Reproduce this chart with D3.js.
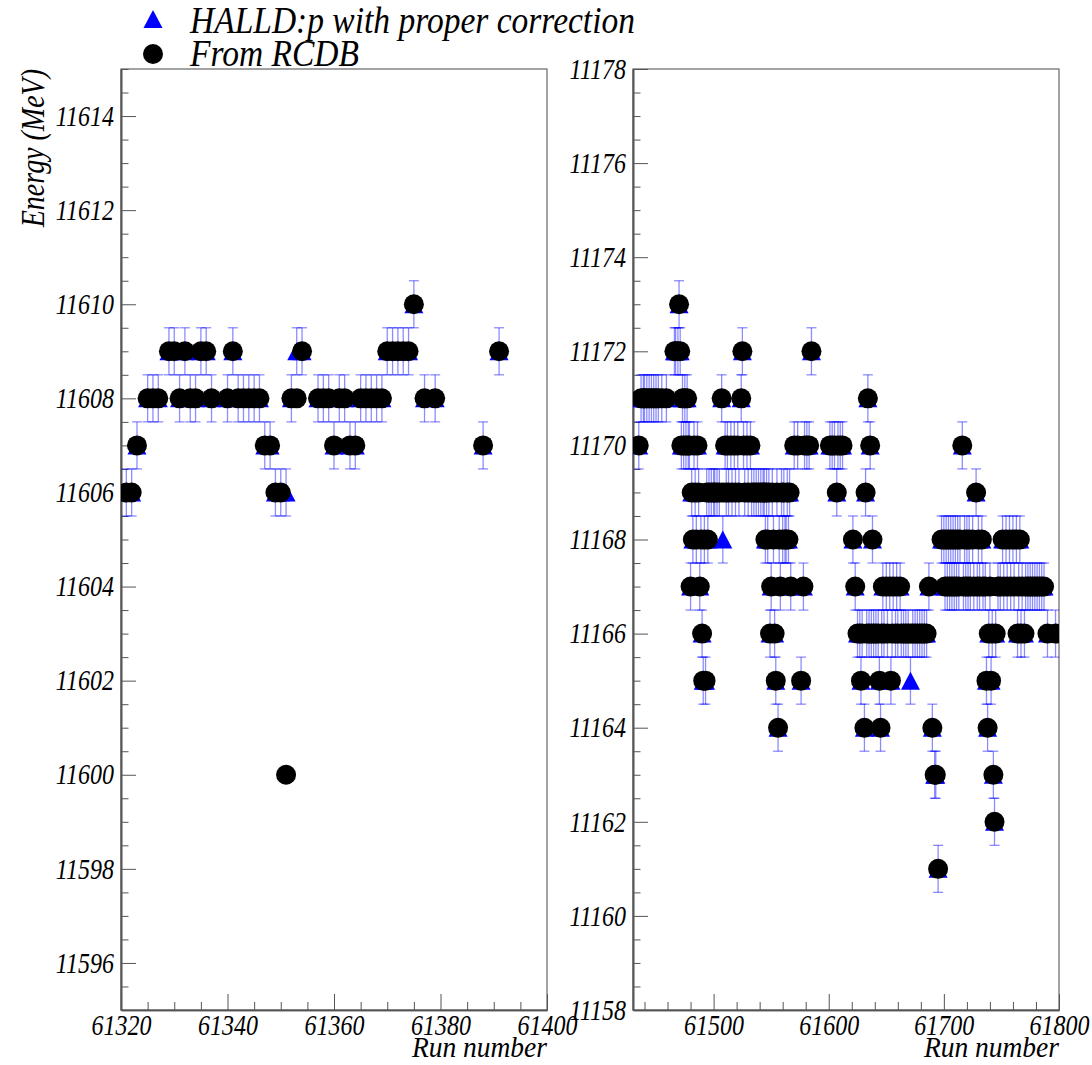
<!DOCTYPE html>
<html>
<head>
<meta charset="utf-8">
<script src="https://cdn.jsdelivr.net/npm/d3@7"></script>
<style>
  html, body { margin: 0; padding: 0; background: #fff; }
  svg text { font-family: "Liberation Serif", "Times New Roman", serif; font-style: italic; fill: #000; }
</style>
</head>
<body>
<svg id="chart" width="1092" height="1065"></svg>
<script>
// ---- Beam energy per run: left block (runs 61320-61400) ----
const runsLeft = [
  61321, 61322, 61323, 61325, 61326, 61327, 61329, 61330, 61331, 61332,
  61333, 61334, 61335, 61336, 61337, 61340, 61341, 61342, 61343, 61344,
  61345, 61346, 61347, 61348, 61349, 61350, 61351, 61352, 61353, 61354,
  61357, 61358, 61359, 61360, 61361, 61362, 61363, 61364, 61365, 61366,
  61367, 61368, 61369, 61370, 61371, 61372, 61373, 61374, 61375, 61377,
  61379, 61388, 61391
];
const halldLeft = [
  11606, 11606, 11607, 11608, 11608, 11608, 11609, 11609, 11608, 11609,
  11608, 11608, 11609, 11609, 11608, 11608, 11609, 11608, 11608, 11608,
  11608, 11608, 11607, 11607, 11606, 11606, 11606, 11608, 11609, 11609,
  11608, 11608, 11608, 11607, 11608, 11608, 11607, 11607, 11608, 11608,
  11608, 11608, 11608, 11609, 11609, 11609, 11609, 11609, 11610, 11608,
  11608, 11607, 11609
];
const rcdbLeft = [
  11606, 11606, 11607, 11608, 11608, 11608, 11609, 11609, 11608, 11609,
  11608, 11608, 11609, 11609, 11608, 11608, 11609, 11608, 11608, 11608,
  11608, 11608, 11607, 11607, 11606, 11606, 11600, 11608, 11608, 11609,
  11608, 11608, 11608, 11607, 11608, 11608, 11607, 11607, 11608, 11608,
  11608, 11608, 11608, 11609, 11609, 11609, 11609, 11609, 11610, 11608,
  11608, 11607, 11609
];

// ---- Beam energy per run: right block (runs 61430-61800) ----
const runsRight = [
  61435, 61437, 61439, 61440, 61442, 61444, 61446, 61448, 61450, 61452,
  61455, 61459, 61466, 61467, 61469, 61470, 61471, 61472, 61473, 61474,
  61475, 61476, 61477, 61478, 61479, 61480, 61481, 61482, 61483, 61484,
  61485, 61486, 61487, 61488, 61489, 61490, 61491, 61492, 61493, 61494,
  61495, 61496, 61498, 61500, 61501, 61503, 61505, 61507, 61508, 61510,
  61511, 61512, 61513, 61515, 61516, 61518, 61519, 61521, 61522, 61524,
  61525, 61526, 61527, 61529, 61530, 61532, 61533, 61535, 61537, 61539,
  61541, 61543, 61544, 61545, 61546, 61547, 61548, 61549, 61550, 61551,
  61552, 61553, 61554, 61555, 61556, 61557, 61558, 61559, 61560, 61561,
  61562, 61563, 61564, 61565, 61566, 61567, 61570, 61573, 61576, 61578,
  61579, 61581, 61583, 61585, 61601, 61603, 61605, 61607, 61608, 61610,
  61612, 61621, 61623, 61625, 61627, 61628, 61629, 61631, 61632, 61633,
  61634, 61635, 61636, 61637, 61638, 61639, 61641, 61643, 61644, 61645,
  61646, 61647, 61648, 61650, 61651, 61653, 61654, 61655, 61656, 61658,
  61659, 61660, 61662, 61663, 61665, 61667, 61669, 61671, 61673, 61675,
  61677, 61679, 61681, 61683, 61685, 61687, 61690, 61692, 61693, 61695,
  61698, 61700, 61701, 61702, 61703, 61704, 61705, 61706, 61707, 61708,
  61709, 61710, 61711, 61712, 61713, 61714, 61716, 61717, 61718, 61719,
  61720, 61721, 61722, 61723, 61725, 61726, 61728, 61729, 61730, 61731,
  61733, 61734, 61736, 61737, 61738, 61739, 61740, 61741, 61742, 61743,
  61744, 61745, 61747, 61749, 61751, 61752, 61754, 61755, 61757, 61758,
  61760, 61761, 61763, 61764, 61765, 61766, 61767, 61768, 61770, 61771,
  61773, 61775, 61777, 61779, 61781, 61783, 61785, 61787, 61790, 61797
];
const halldRight = [
  11170, 11171, 11171, 11171, 11171, 11171, 11171, 11171, 11171, 11171,
  11171, 11171, 11172, 11172, 11172, 11173, 11172, 11170, 11171, 11170,
  11171, 11170, 11171, 11170, 11170, 11167, 11169, 11168, 11170, 11169,
  11168, 11170, 11169, 11167, 11168, 11166, 11165, 11168, 11165, 11169,
  11168, 11169, 11169, 11169, 11169, 11169, 11169, 11171, 11168, 11170,
  11169, 11170, 11169, 11170, 11169, 11170, 11169, 11170, 11169, 11171,
  11172, 11170, 11169, 11170, 11169, 11170, 11169, 11169, 11169, 11169,
  11169, 11169, 11169, 11168, 11169, 11168, 11169, 11166, 11167, 11169,
  11168, 11166, 11165, 11169, 11164, 11168, 11167, 11169, 11168, 11169,
  11168, 11168, 11169, 11168, 11169, 11167, 11170, 11170, 11165, 11167,
  11170, 11170, 11170, 11172, 11170, 11170, 11170, 11169, 11170, 11170,
  11170, 11168, 11167, 11166, 11166, 11165, 11166, 11164, 11169, 11166,
  11171, 11166, 11170, 11166, 11168, 11166, 11166, 11166, 11165, 11164,
  11166, 11167, 11166, 11167, 11166, 11167, 11165, 11166, 11167, 11166,
  11167, 11166, 11167, 11166, 11166, 11166, 11166, 11165, 11166, 11166,
  11166, 11166, 11166, 11166, 11166, 11167, 11164, 11163, 11163, 11161,
  11168, 11168, 11167, 11168, 11167, 11168, 11167, 11168, 11167, 11168,
  11167, 11168, 11167, 11168, 11167, 11168, 11170, 11167, 11168, 11167,
  11168, 11167, 11168, 11167, 11168, 11167, 11169, 11167, 11168, 11167,
  11168, 11167, 11167, 11165, 11164, 11166, 11167, 11165, 11166, 11163,
  11162, 11166, 11167, 11167, 11168, 11167, 11168, 11167, 11168, 11167,
  11168, 11167, 11168, 11166, 11167, 11168, 11166, 11167, 11166, 11167,
  11167, 11167, 11167, 11167, 11167, 11167, 11167, 11167, 11166, 11166
];
const rcdbRight = [
  11170, 11171, 11171, 11171, 11171, 11171, 11171, 11171, 11171, 11171,
  11171, 11171, 11172, 11172, 11172, 11173, 11172, 11170, 11171, 11170,
  11171, 11170, 11171, 11170, 11170, 11167, 11169, 11168, 11170, 11169,
  11168, 11170, 11169, 11167, 11168, 11166, 11165, 11168, 11165, 11169,
  11168, 11169, 11169, 11169, 11169, 11169, 11169, 11171, 11169, 11170,
  11169, 11170, 11169, 11170, 11169, 11170, 11169, 11170, 11169, 11171,
  11172, 11170, 11169, 11170, 11169, 11170, 11169, 11169, 11169, 11169,
  11169, 11169, 11169, 11168, 11169, 11168, 11169, 11166, 11167, 11169,
  11168, 11166, 11165, 11169, 11164, 11168, 11167, 11169, 11168, 11169,
  11168, 11168, 11169, 11168, 11169, 11167, 11170, 11170, 11165, 11167,
  11170, 11170, 11170, 11172, 11170, 11170, 11170, 11169, 11170, 11170,
  11170, 11168, 11167, 11166, 11166, 11165, 11166, 11164, 11169, 11166,
  11171, 11166, 11170, 11166, 11168, 11166, 11166, 11166, 11165, 11164,
  11166, 11167, 11166, 11167, 11166, 11167, 11165, 11166, 11167, 11166,
  11167, 11166, 11167, 11166, 11166, 11166, 11166, 11166, 11166, 11166,
  11166, 11166, 11166, 11166, 11166, 11167, 11164, 11163, 11163, 11161,
  11168, 11168, 11167, 11168, 11167, 11168, 11167, 11168, 11167, 11168,
  11167, 11168, 11167, 11168, 11167, 11168, 11170, 11167, 11168, 11167,
  11168, 11167, 11168, 11167, 11168, 11167, 11169, 11167, 11168, 11167,
  11168, 11167, 11167, 11165, 11164, 11166, 11167, 11165, 11166, 11163,
  11162, 11166, 11167, 11167, 11168, 11167, 11168, 11167, 11168, 11167,
  11168, 11167, 11168, 11166, 11167, 11168, 11166, 11167, 11166, 11167,
  11167, 11167, 11167, 11167, 11167, 11167, 11167, 11167, 11166, 11166
];

// ---- Axis ranges, tick values and labels ----
const xDomainLeft = [61320, 61400];
const yDomainLeft = [11595, 11615];
const xDomainRight = [61430, 61800];
const yDomainRight = [11158, 11178];
const energyError = 0.5;   // +/- half an MeV on each corrected point

const legendLabels = ["HALLD:p with proper correction", "From RCDB"];
const xTitle = "Run number";
const yTitle = "Energy (MeV)";

// ---- Drawing ----
const svg = d3.select("#chart");
svg.append("rect").attr("width", 1092).attr("height", 1065).attr("fill", "#fff");

const frameTop = 69, frameBottom = 1010;
const stretch = 1.2;   // the serif face is drawn a little taller than wide
const panels = [
  { id: "left",  x0: 121, x1: 547, xDom: xDomainLeft,  yDom: yDomainLeft,
    runs: runsLeft, halld: halldLeft, rcdb: rcdbLeft,
    xMajor: 20, xMinor: 5, yTitle: true },
  { id: "right", x0: 633, x1: 1059, xDom: xDomainRight, yDom: yDomainRight,
    runs: runsRight, halld: halldRight, rcdb: rcdbRight,
    xMajor: 100, xMinor: 20, yTitle: false }
];

const blue = "#0000ff";
const triPath = "M0,-9L9.5,9L-9.5,9Z";
const labelFont = 24;

function rangeStep(a, b, s) {
  const out = [];
  for (let v = Math.ceil(a / s) * s; v <= b + 1e-9; v += s) out.push(+v.toFixed(6));
  return out;
}

// text placed at (x, y), stretched along its own vertical direction
function tallText(parent, x, y, str, size, anchor, rotate, k) {
  return parent.append("g")
    .attr("transform", `translate(${x},${y})` + (rotate ? ` rotate(${rotate})` : "") + ` scale(1,${k || stretch})`)
    .append("text")
    .attr("text-anchor", anchor || "start")
    .style("font-size", size + "px")
    .text(str);
}

panels.forEach(p => {
  const x = d3.scaleLinear().domain(p.xDom).range([p.x0, p.x1]);
  const y = d3.scaleLinear().domain(p.yDom).range([frameBottom, frameTop]);
  const g = svg.append("g").attr("class", "panel-" + p.id);

  // clip markers to the frame
  const clipId = "clip-" + p.id;
  svg.append("clipPath").attr("id", clipId)
    .append("rect").attr("x", p.x0).attr("y", frameTop)
    .attr("width", p.x1 - p.x0).attr("height", frameBottom - frameTop);

  // frame
  g.append("rect")
    .attr("x", p.x0).attr("y", frameTop)
    .attr("width", p.x1 - p.x0).attr("height", frameBottom - frameTop)
    .attr("fill", "none").attr("stroke", "#666").attr("stroke-width", 1.2);

  // y axis: major ticks with labels every 2 MeV, minor every 0.5 MeV
  const yMajor = rangeStep(p.yDom[0], p.yDom[1], 2);
  const yMinor = rangeStep(p.yDom[0], p.yDom[1], 0.5).filter(v => !yMajor.includes(v));
  const yAxisMinor = g.append("g").attr("transform", `translate(${p.x0},0)`)
    .call(d3.axisLeft(y).tickValues(yMinor).tickSize(-7.5).tickSizeOuter(0).tickFormat(""));
  const yAxisMajor = g.append("g").attr("transform", `translate(${p.x0},0)`)
    .call(d3.axisLeft(y).tickValues(yMajor).tickSize(-15).tickSizeOuter(0).tickPadding(7)
      .tickFormat(d3.format("d")));

  // x axis: major ticks with labels, minor ticks in between
  const xMajor = rangeStep(p.xDom[0], p.xDom[1], p.xMajor);
  const xMinor = rangeStep(p.xDom[0], p.xDom[1], p.xMinor).filter(v => !xMajor.includes(v));
  const xAxisMinor = g.append("g").attr("transform", `translate(0,${frameBottom})`)
    .call(d3.axisBottom(x).tickValues(xMinor).tickSize(-8).tickSizeOuter(0).tickFormat(""));
  const xAxisMajor = g.append("g").attr("transform", `translate(0,${frameBottom})`)
    .call(d3.axisBottom(x).tickValues(xMajor).tickSize(-16).tickSizeOuter(0).tickPadding(5)
      .tickFormat(d3.format("d")));

  [yAxisMinor, yAxisMajor, xAxisMinor, xAxisMajor].forEach(a => {
    a.select(".domain").attr("stroke", "#555").attr("stroke-width", 1.6);
    a.selectAll(".tick line").attr("stroke", "#555").attr("stroke-width", 1);
    a.selectAll(".tick text")
      .style("font-family", '"Liberation Serif", serif')
      .style("font-style", "italic")
      .style("font-size", labelFont + "px")
      .attr("fill", "#000")
      .attr("y", function () { return (+this.getAttribute("y") || 0) / stretch; })
      .attr("transform", `scale(1,${stretch})`);
  });

  // axis titles
  tallText(g, p.x1, 1057, xTitle, 27.5, "end", 0, 1.1);
  if (p.yTitle) tallText(g, 44, frameTop, yTitle, 28, "end", -90);

  const pts = p.runs.map((r, i) => ({ run: r, h: p.halld[i], c: p.rcdb[i] }));
  const marks = g.append("g").attr("clip-path", `url(#${clipId})`);

  // error bars on the corrected values
  const eb = marks.append("g").attr("stroke", blue).attr("stroke-opacity", 0.45).attr("stroke-width", 1.3);
  pts.forEach(d => {
    const xx = x(d.run), yl = y(d.h - energyError), yh = y(d.h + energyError);
    eb.append("line").attr("x1", xx).attr("x2", xx).attr("y1", yl).attr("y2", yh);
    eb.append("line").attr("x1", xx - 5).attr("x2", xx + 5).attr("y1", yl).attr("y2", yl);
    eb.append("line").attr("x1", xx - 5).attr("x2", xx + 5).attr("y1", yh).attr("y2", yh);
  });

  // corrected values: blue triangles
  marks.append("g").selectAll("path").data(pts).join("path")
    .attr("d", triPath)
    .attr("transform", d => `translate(${x(d.run)},${y(d.h)})`)
    .attr("fill", blue);

  // RCDB values: black circles
  marks.append("g").selectAll("circle").data(pts).join("circle")
    .attr("cx", d => x(d.run)).attr("cy", d => y(d.c)).attr("r", 10)
    .attr("fill", "#000");
});

// legend
const legend = svg.append("g");
legend.append("path").attr("d", triPath).attr("transform", "translate(153,19)").attr("fill", blue);
legend.append("circle").attr("cx", 153).attr("cy", 54).attr("r", 10).attr("fill", "#000");
tallText(legend, 190, 33, legendLabels[0], 33.5, "start", 0, 1.1);
tallText(legend, 190, 66, legendLabels[1], 33.5, "start", 0, 1.1);
</script>
</body>
</html>
